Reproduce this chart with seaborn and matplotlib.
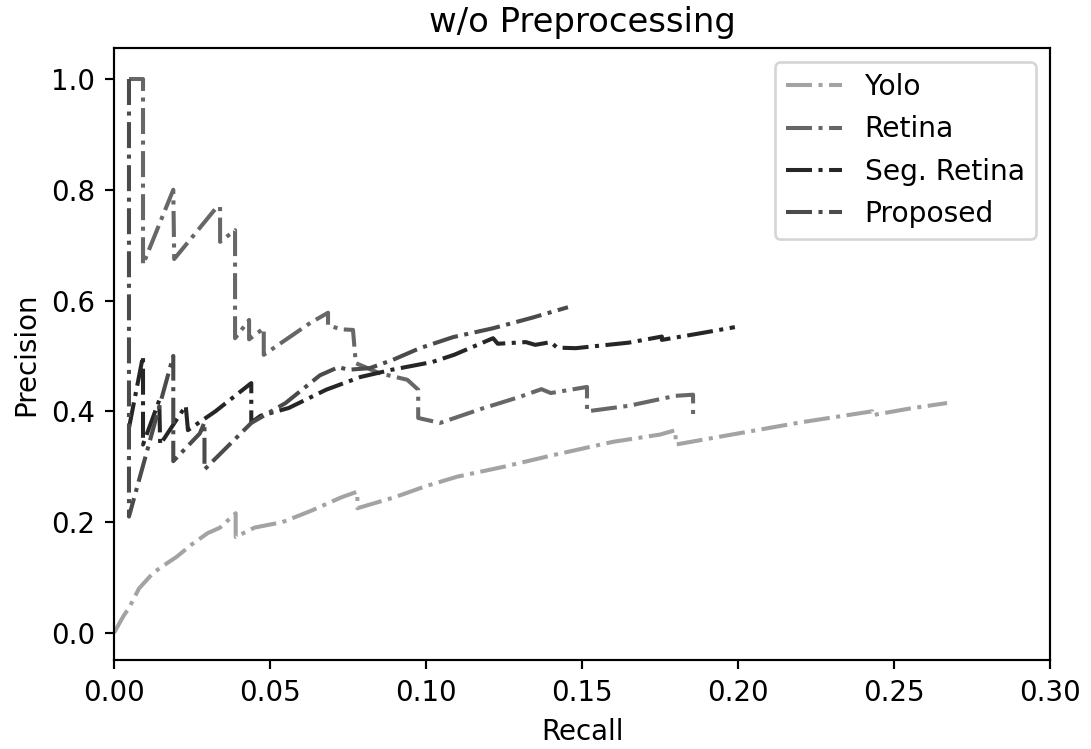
import numpy as np
import pandas as pd
import matplotlib
matplotlib.use("Agg")
import matplotlib.pyplot as plt
import seaborn as sns

# precision / recall points
yolo_recall = [0.0, 0.003, 0.005, 0.008, 0.0125, 0.016, 0.020, 0.025, 0.030, 0.034, 0.039, 0.039,
               0.045, 0.054, 0.063, 0.073, 0.078, 0.078, 0.09, 0.10, 0.11, 0.125, 0.14, 0.16,
               0.175, 0.180, 0.180, 0.20, 0.22, 0.243, 0.243, 0.255, 0.267]
yolo_precision = [0.0, 0.03, 0.047, 0.08, 0.108, 0.122, 0.137, 0.16, 0.18, 0.19, 0.216, 0.173,
                  0.19, 0.20, 0.22, 0.245, 0.255, 0.225, 0.245, 0.265, 0.282, 0.30, 0.32, 0.345,
                  0.358, 0.366, 0.34, 0.36, 0.38, 0.40, 0.393, 0.405, 0.415]

retina_recall = [0.0048, 0.0093, 0.0093, 0.019, 0.0193, 0.033, 0.034, 0.034, 0.0388, 0.0388,
                 0.0433, 0.0433, 0.048, 0.048, 0.063, 0.0686, 0.0686, 0.073, 0.0766, 0.0775,
                 0.085, 0.094, 0.0975, 0.0975, 0.1045, 0.118, 0.13, 0.137, 0.140, 0.1516,
                 0.1516, 0.165, 0.18, 0.1856, 0.1856]
retina_precision = [1.0, 1.0, 0.665, 0.80, 0.675, 0.769, 0.769, 0.706, 0.727, 0.532,
                    0.565, 0.53, 0.55, 0.502, 0.56, 0.578, 0.555, 0.548, 0.547, 0.487,
                    0.469, 0.457, 0.439, 0.388, 0.379, 0.405, 0.426, 0.44, 0.433, 0.444,
                    0.40, 0.41, 0.428, 0.43, 0.39]

seg_recall = [0.0048, 0.0093, 0.0093, 0.0145, 0.0148, 0.023, 0.0237, 0.0325, 0.044, 0.044,
              0.047, 0.056, 0.068, 0.079, 0.089, 0.102, 0.109, 0.1215, 0.123, 0.132, 0.135,
              0.14, 0.142, 0.148, 0.165, 0.1756, 0.1756, 0.188, 0.199]
seg_precision = [0.37, 0.50, 0.34, 0.42, 0.34, 0.41, 0.366, 0.40, 0.451, 0.38,
                 0.392, 0.406, 0.439, 0.462, 0.475, 0.489, 0.502, 0.532, 0.522, 0.525, 0.52,
                 0.525, 0.515, 0.514, 0.524, 0.535, 0.529, 0.541, 0.552]

proposed_recall = [0.0048, 0.0048, 0.019, 0.019, 0.0275, 0.029, 0.029, 0.044, 0.055, 0.066,
                   0.072, 0.075, 0.082, 0.0894, 0.098, 0.1087, 0.1215, 0.134, 0.1455]
proposed_precision = [1.0, 0.21, 0.50, 0.31, 0.36, 0.38, 0.295, 0.379, 0.415, 0.465,
                      0.48, 0.475, 0.478, 0.493, 0.514, 0.534, 0.55, 0.569, 0.588]

names = ["Yolo", "Retina", "Seg. Retina", "Proposed"]
colors = ["#a3a3a3", "#676767", "#262626", "#4b4b4b"]
series = [(yolo_recall, yolo_precision), (retina_recall, retina_precision),
          (seg_recall, seg_precision), (proposed_recall, proposed_precision)]

sns.set_style("ticks", {"axes.edgecolor": "black", "xtick.color": "black",
                        "ytick.color": "black", "axes.labelcolor": "black",
                        "text.color": "black"})
plt.rcParams["font.family"] = ["DejaVu Sans"]

fig, ax = plt.subplots(figsize=(1091 / 195, 749 / 195), dpi=195)
fig.subplots_adjust(left=114 / 1091, right=1050 / 1091, top=1 - 48 / 749, bottom=1 - 660 / 749)

for name, col, (r, p) in zip(names, colors, series):
    df = pd.DataFrame({"Recall": r, "Precision": p})
    sns.lineplot(data=df, x="Recall", y="Precision", sort=False, estimator=None,
                 color=col, linestyle="-.", linewidth=1.5, label=name, ax=ax)

ax.set_xlim(0, 0.3)
ax.set_ylim(-0.049, 1.056)
ax.set_xticks([0.0, 0.05, 0.10, 0.15, 0.20, 0.25, 0.30])
ax.set_yticks([0.0, 0.2, 0.4, 0.6, 0.8, 1.0])
ax.xaxis.set_major_formatter(matplotlib.ticker.FormatStrFormatter("%.2f"))
ax.yaxis.set_major_formatter(matplotlib.ticker.FormatStrFormatter("%.1f"))
ax.tick_params(labelsize=10.2, width=0.8, length=3.5, colors="black")
for s in ax.spines.values():
    s.set_linewidth(0.8)
ax.set_xlabel("Recall", fontsize=10.2, color="black")
ax.set_ylabel("Precision", fontsize=10.2, color="black")
ax.set_title("w/o Preprocessing", fontsize=12.5, color="black")
leg = ax.legend(loc="upper right", fontsize=10.4, frameon=True)
for t in leg.get_texts():
    t.set_color("black")

plt.savefig("out.png", dpi=195)
